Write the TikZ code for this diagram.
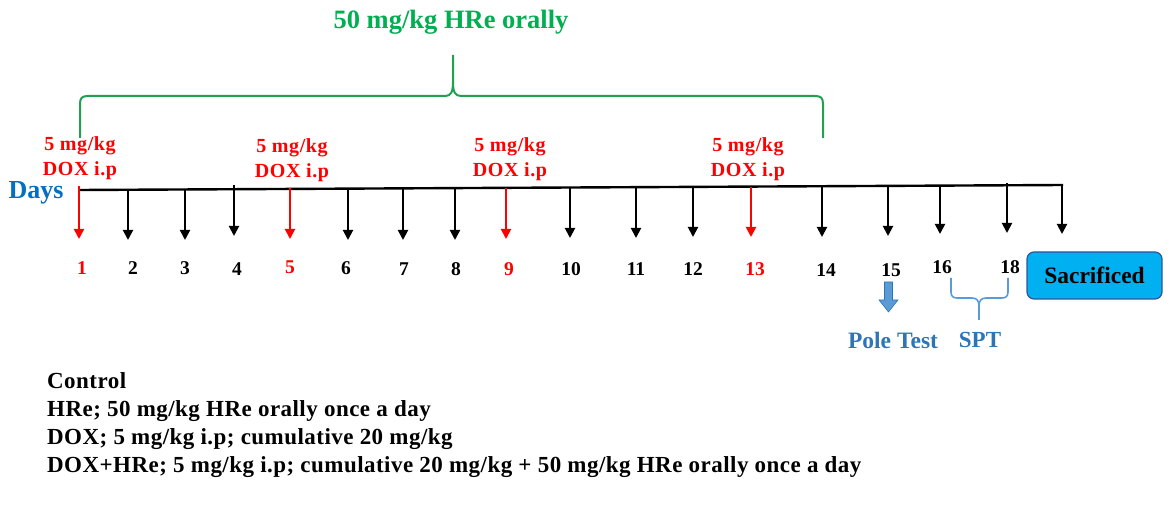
\documentclass[tikz,border=0pt]{standalone}
\usepackage{fontspec}
\setmainfont{Liberation Serif}
\usetikzlibrary{arrows.meta}
\definecolor{doxred}{HTML}{FF0000}
\definecolor{hregreen}{HTML}{00B050}
\definecolor{bracegreen}{HTML}{20A050}
\definecolor{daysblue}{HTML}{0070C0}
\definecolor{testblue}{HTML}{2E75B6}
\definecolor{lightblue}{HTML}{5B9BD5}
\definecolor{sacfill}{HTML}{00B0F0}
\definecolor{sacdraw}{HTML}{2F5597}
\begin{document}
\begin{tikzpicture}[x=1pt,y=-1pt,
  tick/.style={line width=2pt,-{Triangle[width=10pt,length=10pt]}},
  daynum/.style={font=\fontsize{19.5}{22}\selectfont\bfseries},
  doxlabel/.style={font=\fontsize{20}{25}\selectfont\bfseries\addfontfeature{LetterSpace=3},text=doxred,align=center,inner sep=0pt},
  legend/.style={font=\fontsize{23}{28}\selectfont\bfseries\addfontfeature{LetterSpace=2},align=left,anchor=north west,inner sep=0pt}]
\useasboundingbox (0,0) rectangle (1176,510);
% title and brace
\node[font=\fontsize{26.5}{28}\selectfont\bfseries,text=hregreen] (title) at (451,22) {50 mg/kg HRe orally};
\draw[bracegreen,line width=2pt]
  (80,138) -- (80,104) .. controls (80,98) and (82,96) .. (88,96) -- (445,96)
  .. controls (451,96) and (453,92) .. (453,82) -- (453,55);
\draw[bracegreen,line width=2pt]
  (453,82) .. controls (453,92) and (455,96) .. (461,96) -- (815,96)
  .. controls (821,96) and (823,98) .. (823,104) -- (823,138);
% axis
\coordinate (axL) at (80,190);
\coordinate (axR) at (1063,185);
\draw[line width=2.4pt] (axL) -- (axR);
\node[font=\fontsize{26}{28}\selectfont\bfseries,text=daysblue] (days) at (36,193) {Days};
% ticks
\foreach \n/\x/\t/\b/\c in {1/79/186/239/doxred,2/128/190/240/black,3/185/190/240/black,4/234/185/236/black,
  5/290/188/239/doxred,6/348/189/240/black,7/403/189/240/black,8/455/189/240/black,9/506/188/239/doxred,
  10/570/188/238/black,11/636/188/238/black,12/693/187/237/black,13/751/187/237/doxred,14/822/186/237/black,
  15/888/186/236/black,16/940/186/234/black,18/1007/183/233/black,19/1062/186/234/black}{
  \coordinate (s\n) at (\x,\t);
  \coordinate (e\n) at (\x,\b);
  \draw[tick,\c] (s\n) -- (e\n);
}
% day numbers
\foreach \n/\x/\y/\c in {1/82/268/doxred,2/133/268/black,3/185/268/black,4/237/269/black,5/290/267/doxred,
  6/346/268/black,7/404/269/black,8/456/269/black,9/509/269/doxred,10/571/269/black,11/636/269/black,
  12/693/269/black,13/755/269/doxred,14/826/270/black,15/891/270/black,16/942/267/black,18/1010/267/black}{
  \node[daynum,text=\c] (d\n) at (\x,\y) {\n};
}
% DOX labels
\node[doxlabel] (dox1) at (80,158) {5 mg/kg\\DOX i.p};
\node[doxlabel] (dox5) at (292,160) {5 mg/kg\\DOX i.p};
\node[doxlabel] (dox9) at (510,159) {5 mg/kg\\DOX i.p};
\node[doxlabel] (dox13) at (748,159) {5 mg/kg\\DOX i.p};
% sacrificed
\node[draw=sacdraw,fill=sacfill,line width=1.2pt,rounded corners=7pt,minimum width=135pt,minimum height=47pt,
  font=\fontsize{23.5}{26}\selectfont\bfseries] (sac) at (1094.5,275.5) {Sacrificed};
% pole test arrow
\draw[fill=lightblue,draw=testblue,line width=0.6pt]
  (884.5,282) -- (892.5,282) -- (892.5,300) -- (898,300) -- (888.5,312) -- (879,300) -- (884.5,300) -- cycle;
\node[font=\fontsize{23.5}{26}\selectfont\bfseries,text=testblue] (pole) at (893,340) {Pole Test};
% SPT brace
\draw[lightblue,line width=1.6pt]
  (951,278) -- (951,292) .. controls (951,296) and (953,298) .. (957,298) -- (972,298)
  .. controls (977,298) and (979,301) .. (979,306) -- (979,320);
\draw[lightblue,line width=1.6pt]
  (979,306) .. controls (979,301) and (981,298) .. (986,298) -- (1002,298)
  .. controls (1006,298) and (1008,296) .. (1008,292) -- (1008,278);
\node[font=\fontsize{23}{26}\selectfont\bfseries,text=testblue] (spt) at (980,340) {SPT};
% legend
\node[legend] (leg) at (47,372) {Control\\
HRe; 50 mg/kg HRe orally once a day\\
DOX; 5 mg/kg i.p; cumulative 20 mg/kg\\
DOX+HRe; 5 mg/kg i.p; cumulative 20 mg/kg + 50 mg/kg HRe orally once a day};
\end{tikzpicture}
\end{document}
